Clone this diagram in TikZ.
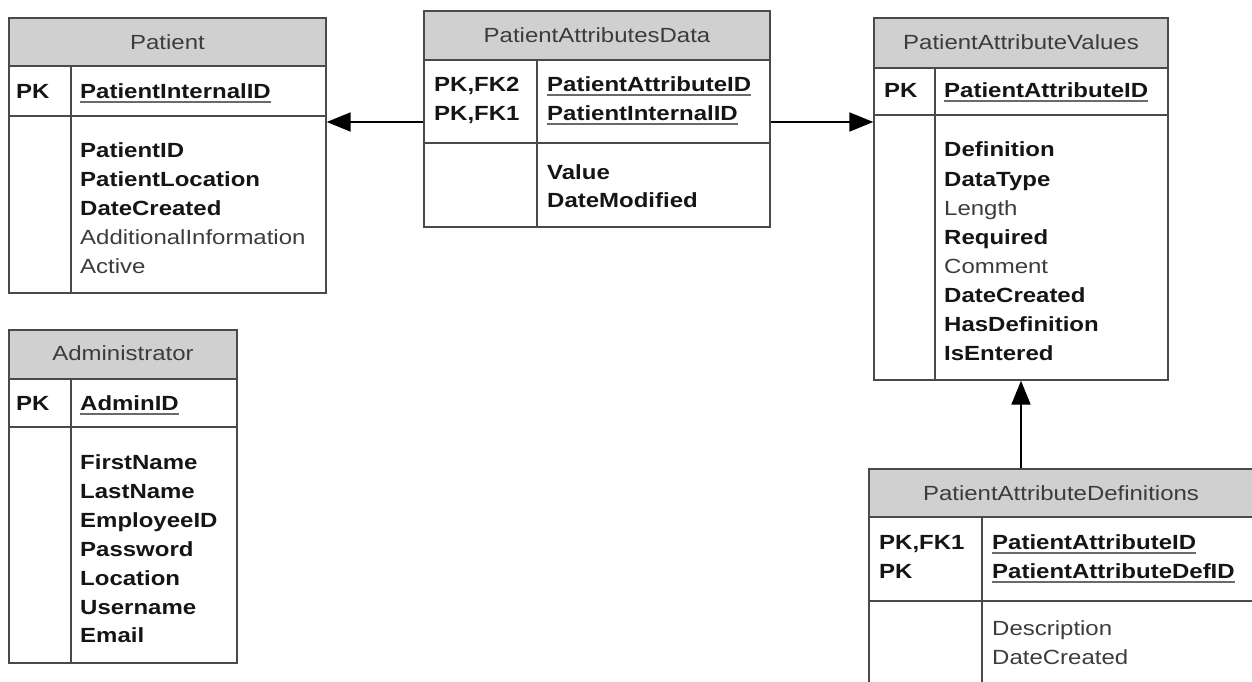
\documentclass[tikz,border=0pt]{standalone}
\usepackage{fontspec}
\setmainfont{Liberation Sans}[FakeStretch=1.17]
\usetikzlibrary{arrows.meta}
\definecolor{hdr}{HTML}{D0D0D0}
\definecolor{edge}{HTML}{4A4A4A}
\definecolor{txtb}{HTML}{151515}
\definecolor{txtr}{HTML}{3C3C3C}
\definecolor{ulc}{HTML}{6A6A6A}
\newcommand\keyu[1]{\setbox0=\hbox{#1}\leavevmode\rlap{\color{ulc}\rule[-4.5pt]{\wd0}{2pt}}\box0}
\newcommand\ertable[8]{%
  \fill[hdr] (#2,#3) rectangle (#4,#6);
  \draw[sep] (#2,#6) -- (#4,#6);
  \draw[sep] (#2,#7) -- (#4,#7);
  \draw[sep] (#8,#6) -- (#8,#5);
  \node[tblbox, minimum width={#4-#2}, minimum height={#5-#3}] (#1) at ({(#2+#4)/2},{(#3+#5)/2}) {};
}
\begin{document}
\begin{tikzpicture}[x=1pt,y=-1pt,
  sep/.style={draw=edge, line width=1.4pt},
  tblbox/.style={draw=edge, line width=1.4pt, inner sep=0pt, rectangle},
  fld/.style={anchor=west, inner sep=0pt, text height=14.7pt, text depth=0pt},
  bf/.style={fld, font=\fontsize{20.5}{24}\selectfont\bfseries, text=txtb},
  rg/.style={fld, font=\fontsize{20.5}{24}\selectfont, text=txtr},
  hd/.style={anchor=center, inner sep=0pt, text height=14.7pt, text depth=0pt, font=\fontsize{20.5}{24}\selectfont, text=txtr},
  arr/.style={line width=2pt, draw=black, -{Triangle[length=24pt,width=19pt]}}]
\useasboundingbox (0,0) rectangle (1252,681);
\begin{scope}
\clip (0,0) rectangle (1252,681);
% Patient
\ertable{patient}{9}{18}{326}{293}{66}{116}{71}
\node[hd] (patient-h) at (167.5,42) {Patient};
\node[bf] (patient-pk) at (16,91) {PK};
\node[bf] (patient-k1) at (80,91) {\keyu{PatientInternalID}};
\node[bf] (patient-f1) at (80,150) {PatientID};
\node[bf] (patient-f2) at (80,179) {PatientLocation};
\node[bf] (patient-f3) at (80,208) {DateCreated};
\node[rg] (patient-f4) at (80,237) {AdditionalInformation};
\node[rg] (patient-f5) at (80,266) {Active};
% PatientAttributesData
\ertable{data}{424}{11}{770}{227}{60}{143}{537}
\node[hd] (data-h) at (597,35) {PatientAttributesData};
\node[bf] (data-pk1) at (434,84) {PK,FK2};
\node[bf] (data-pk2) at (434,113) {PK,FK1};
\node[bf] (data-k1) at (547,84) {\keyu{PatientAttributeID}};
\node[bf] (data-k2) at (547,113) {\keyu{PatientInternalID}};
\node[bf] (data-f1) at (547,172) {Value};
\node[bf] (data-f2) at (547,200) {DateModified};
% PatientAttributeValues
\ertable{pav}{874}{18}{1168}{380}{68}{115}{935}
\node[hd] (pav-h) at (1021,42) {PatientAttributeValues};
\node[bf] (pav-pk) at (884,90) {PK};
\node[bf] (pav-k1) at (944,90) {\keyu{PatientAttributeID}};
\node[bf] (pav-f1) at (944,149) {Definition};
\node[bf] (pav-f2) at (944,179) {DataType};
\node[rg] (pav-f3) at (944,208) {Length};
\node[bf] (pav-f4) at (944,237) {Required};
\node[rg] (pav-f5) at (944,266) {Comment};
\node[bf] (pav-f6) at (944,295) {DateCreated};
\node[bf] (pav-f7) at (944,324) {HasDefinition};
\node[bf] (pav-f8) at (944,353) {IsEntered};
% PatientAttributeDefinitions
\ertable{pad}{869}{469}{1254}{710}{517}{601}{982}
\node[hd] (pad-h) at (1061,493) {PatientAttributeDefinitions};
\node[bf] (pad-pk1) at (879,542) {PK,FK1};
\node[bf] (pad-pk2) at (879,571) {PK};
\node[bf] (pad-k1) at (992,542) {\keyu{PatientAttributeID}};
\node[bf] (pad-k2) at (992,571) {\keyu{PatientAttributeDefID}};
\node[rg] (pad-f1) at (992,628) {Description};
\node[rg] (pad-f2) at (992,657) {DateCreated};
% Administrator
\ertable{admin}{9}{330}{237}{663}{379}{427}{71}
\node[hd] (admin-h) at (123,353) {Administrator};
\node[bf] (admin-pk) at (16,403) {PK};
\node[bf] (admin-k1) at (80,403) {\keyu{AdminID}};
\node[bf] (admin-f1) at (80,462) {FirstName};
\node[bf] (admin-f2) at (80,491) {LastName};
\node[bf] (admin-f3) at (80,520) {EmployeeID};
\node[bf] (admin-f4) at (80,549) {Password};
\node[bf] (admin-f5) at (80,578) {Location};
\node[bf] (admin-f6) at (80,607) {Username};
\node[bf] (admin-f7) at (80,635) {Email};
% connectors
\draw[arr] ([yshift=-3pt]data.west) -- ([yshift=-3pt]data.west -| patient.east);
\draw[arr] ([yshift=-3pt]data.east) -- ([yshift=-3pt]data.east -| pav.west);
\draw[arr] (pav.south |- pad.north) -- (pav.south);
\end{scope}
\end{tikzpicture}
\end{document}
